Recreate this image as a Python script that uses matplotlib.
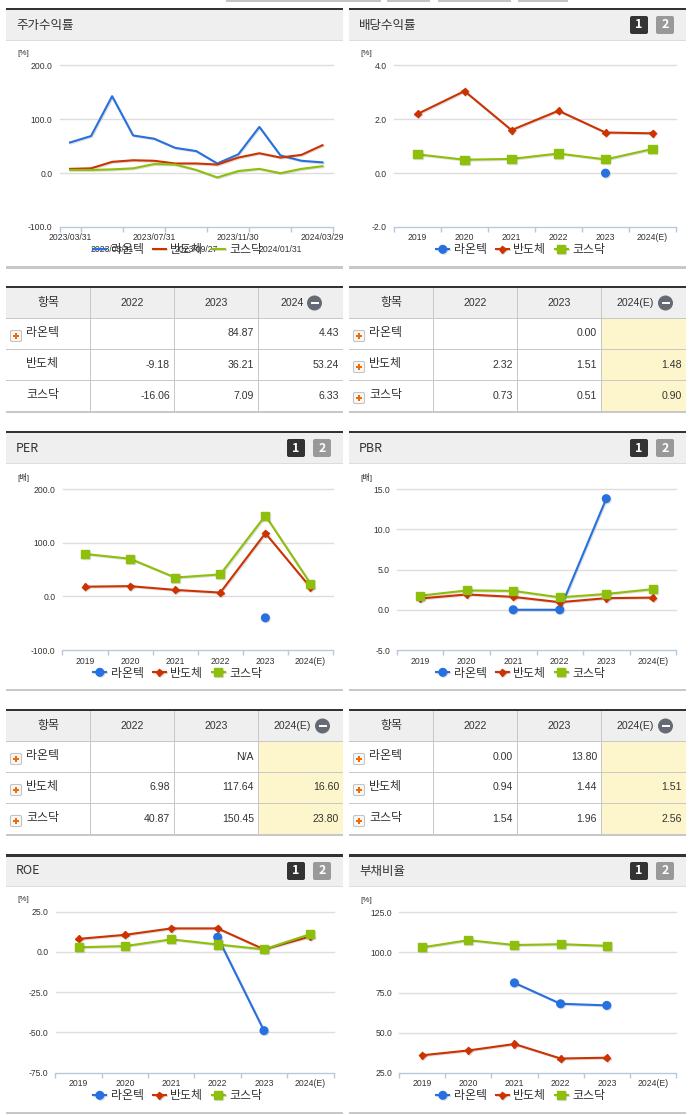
import matplotlib
matplotlib.use("Agg")
import matplotlib.pyplot as plt
import matplotlib.patheffects as pe
from matplotlib.patches import Rectangle, FancyBboxPatch, Circle
from matplotlib.transforms import IdentityTransform

plt.rcParams['font.family'] = ['Noto Sans CJK KR', 'DejaVu Sans']

W, H = 691, 1115
BLUE, RED, GREEN = '#2670df', '#cc3300', '#8dbf0b'
NAMES = ['라온텍', '반도체', '코스닥']
LATIN = ['Liberation Sans', 'Noto Sans CJK KR']

# chart data
months = ['2023/03/31', '', '2023/05/31', '', '2023/07/31', '', '2023/09/27', '',
          '2023/11/30', '', '2024/01/31', '', '2024/03/29']
ret_raon = [57, 69, 143, 70, 64, 47, 41, 18, 35, 86, 33, 23, 20]
ret_semi = [8, 9, 21, 24, 23, 18, 18, 16, 29, 37, 29, 34, 52]
ret_kosdaq = [6, 6, 7, 9, 17, 16, 6, -8, 4, 8, 0, 8, 13]

years = ['2019', '2020', '2021', '2022', '2023', '2024(E)']
N = None
div_raon = [N, N, N, N, 0.0, N]
div_semi = [2.2, 3.05, 1.6, 2.32, 1.51, 1.48]
div_kosdaq = [0.7, 0.5, 0.53, 0.73, 0.51, 0.9]
per_raon = [N, N, N, N, -40, N]
per_semi = [18, 19, 12, 6.98, 117.64, 16.6]
per_kosdaq = [79, 70, 35, 40.87, 150.45, 23.8]
pbr_raon = [N, N, 0.0, 0.0, 13.8, N]
pbr_semi = [1.4, 1.9, 1.6, 0.94, 1.44, 1.51]
pbr_kosdaq = [1.75, 2.4, 2.35, 1.54, 1.96, 2.56]
roe_raon = [N, N, N, 9, -49, N]
roe_semi = [8, 10.5, 14.5, 14.5, 1.5, 9.5]
roe_kosdaq = [2.8, 3.5, 7.7, 4.5, 1.5, 11]
debt_raon = [N, N, 81, 68, 67, N]
debt_semi = [36, 39, 43, 34, 34.5, N]
debt_kosdaq = [103, 107.5, 104.5, 105, 104, N]

# table data
ret_cols = ['2022', '2023', '2024']
ret_rows = [['', '84.87', '4.43'], ['-9.18', '36.21', '53.24'], ['-16.06', '7.09', '6.33']]
est_cols = ['2022', '2023', '2024(E)']
div_rows = [['', '0.00', ''], ['2.32', '1.51', '1.48'], ['0.73', '0.51', '0.90']]
per_rows = [['', 'N/A', ''], ['6.98', '117.64', '16.60'], ['40.87', '150.45', '23.80']]
pbr_rows = [['0.00', '13.80', ''], ['0.94', '1.44', '1.51'], ['1.54', '1.96', '2.56']]

fig = plt.figure(figsize=(W / 100, H / 100), dpi=100)


def fx(x):
    return x / W


def fy(y):
    return 1 - y / H


def rect(x0, y0, x1, y1, color, z=0):
    fig.add_artist(Rectangle((fx(x0), fy(y1)), (x1 - x0) / W, (y1 - y0) / H,
                             transform=fig.transFigure, fc=color, ec='none', zorder=z))


def txt(x, y, s, size=8.2, color='#333333', ha='left', **kw):
    return fig.text(fx(x), fy(y), s, fontsize=size, color=color, ha=ha, va='center', **kw)


def rounded(x, y, size, fc, ec='none', radius=2, z=2):
    fig.add_artist(FancyBboxPatch((x, H - y - size), size, size,
                                  boxstyle='round,pad=0,rounding_size=%s' % radius,
                                  transform=IdentityTransform(), fc=fc, ec=ec, lw=0.8, zorder=z))


def badge(x, y, s, color):
    rounded(x, y, 18, color)
    txt(x + 9, y + 9, s, 9, 'white', 'center', fontweight='bold', zorder=3)


def header(x0, x1, y, title, badges=True):
    rect(x0, y, x1, y + 2.5, '#333333')
    rect(x0, y + 2.5, x1, y + 32, '#efefef')
    rect(x0, y + 32, x1, y + 33, '#dddddd')
    txt(x0 + 10, y + 17, title, 9)
    if badges:
        badge(x1 - 56, y + 8, '1', '#333333')
        badge(x1 - 30, y + 8, '2', '#999999')


def chart(panel_x, x0, x1, y0, y1, ymin, ymax, step, unit, labels, series):
    ax = fig.add_axes([fx(x0), fy(y1), (x1 - x0) / W, (y1 - y0) / H])
    n = len(labels)
    ticks = []
    v = ymin
    while v <= ymax:
        ticks.append(v)
        v += step
    ax.set_xlim(-0.5, n - 0.5)
    ax.set_ylim(ymin, ymax)
    ax.set_yticks(ticks)
    ax.set_yticklabels(['{:.1f}'.format(t) for t in ticks], fontsize=6.2, color='#333333',
                       family=LATIN)
    ax.tick_params(axis='y', length=0, pad=5)
    ax.grid(axis='y', color='#dddddd', lw=1)
    for g in ax.get_ygridlines():
        g.set_clip_on(False)
    ax.set_axisbelow(True)
    for s in ['top', 'left', 'right']:
        ax.spines[s].set_visible(False)
    ax.spines['bottom'].set_color('#b5c9de')
    shadow = [pe.SimpleLineShadow(offset=(0.7, -0.7), alpha=0.2, shadow_color='#555555'), pe.Normal()]
    handles = []
    for (vals, name, c, m, ms) in series:
        xs = [i for i, val in enumerate(vals) if val is not None]
        ys = [vals[i] for i in xs]
        h, = ax.plot(xs, ys, color=c, lw=1.5, marker=m, ms=ms, mec=c, label=name,
                     path_effects=shadow, clip_on=False, zorder=3)
        handles.append(h)
    txt(panel_x + 11, y0 - 12, unit, 5.8, family=LATIN)
    return ax, handles


def three(raon, semi, kosdaq):
    return [(raon, NAMES[0], BLUE, 'o', 5.5), (semi, NAMES[1], RED, 'D', 3.6),
            (kosdaq, NAMES[2], GREEN, 's', 5.8)]


def legend(handles, xc, y):
    fig.legend(handles=handles, loc='center', bbox_to_anchor=(fx(xc), fy(y)), ncol=3, frameon=False,
               fontsize=8.6, handlelength=1.1, handletextpad=0.4, columnspacing=0.7,
               labelcolor='#333333', borderpad=0)


def cat_axis(ax, labels):
    ax.set_xticks([i - 0.5 for i in range(len(labels) + 1)])
    ax.set_xticklabels([''] * (len(labels) + 1))
    ax.tick_params(axis='x', length=3.5, color='#b5c9de', width=1)
    for i, s in enumerate(labels):
        ax.annotate(s, (i, 0), xycoords=('data', 'axes fraction'), xytext=(0, -11), textcoords='offset pixels',
                    ha='center', va='center', fontsize=6.2, color='#333333', family=LATIN,
                    annotation_clip=False)


def table(x0, y, cols, rows, plus, est=True):
    xs = [x0, x0 + 84, x0 + 168, x0 + 252, x0 + 337]
    ys = [y + 2, y + 32, y + 63, y + 94, y + 125]
    rect(x0, y, xs[-1], y + 2, '#333333', 1)
    rect(x0, ys[0], xs[-1], ys[1], '#efefef')
    if est:
        rect(xs[3], ys[1], xs[4], ys[4], '#fdf6cd')
    for yy in ys[1:4]:
        rect(x0, yy, xs[-1], yy + 1, '#c8c8c8', 1)
    rect(x0, ys[4], xs[-1], ys[4] + 2, '#c8c8c8', 1)
    for xx in xs[1:4]:
        rect(xx, ys[0], xx + 1, ys[4], '#c8c8c8', 1)
    txt(x0 + 42, y + 17, '항목', 8.6, ha='center')
    for i, c in enumerate(cols):
        cx = (xs[i + 1] + xs[i + 2]) / 2
        if i == 2:
            cx -= 8
        txt(cx, y + 17, c, 7.6, ha='center', family=LATIN)
    # collapse button on the last header cell
    tw = 22 if len(cols[2]) == 4 else 30
    icx = (xs[3] + xs[4]) / 2 - 8 + tw
    fig.add_artist(Circle((icx, H - (y + 17)), 7.5, transform=IdentityTransform(),
                          fc='#666a75', ec='none', zorder=3))
    rect(icx - 4, y + 16, icx + 4, y + 18, 'white', 4)
    for r, row in enumerate(rows):
        yc = (ys[r + 1] + ys[r + 2]) / 2
        txt(x0 + 20, yc - 1, NAMES[r], 8.6)
        if plus[r]:
            rounded(x0 + 4.5, yc - 3, 11, '#f8f8f8', '#c4c4c4', 1.5, 2)
            rect(x0 + 7, yc + 1.5, x0 + 13, yc + 3.5, '#f26a00', 4)
            rect(x0 + 9, yc - 0.5, x0 + 11, yc + 5.5, '#f26a00', 4)
        for i, v in enumerate(row):
            txt(xs[i + 2] - 4 if i < 2 else xs[4] - 4, yc, v, 7.6, ha='right', family=LATIN)


# top buttons cut off by the crop
for a, b in [(226, 381), (387, 430), (438, 511), (518, 568)]:
    rect(a, 0, b, 1.5, '#c4c4c4')

L0, L1, R0, R1 = 6, 343, 349, 686

# row 1
header(L0, L1, 8, '주가수익률', badges=False)
header(R0, R1, 8, '배당수익률')
ax, hs = chart(L0, 59.5, 333, 65.5, 227, -100, 200, 100, '[%]', months,
               [(ret_raon, NAMES[0], BLUE, None, 0), (ret_semi, NAMES[1], RED, None, 0),
                (ret_kosdaq, NAMES[2], GREEN, None, 0)])
legend(hs, 178, 250)
ax.set_xticks([i - 0.5 for i in [0, 1, 3, 5, 7, 9, 11, 13]])
ax.set_xticklabels([''] * 8)
ax.tick_params(axis='x', length=3.5, color='#b5c9de', width=1)
clip = Rectangle((0, 0), 343, H, transform=IdentityTransform())
for i, s in enumerate(months):
    if s:
        t = ax.annotate(s, (i, 0), xycoords=('data', 'axes fraction'),
                        xytext=(0, -10 if i % 4 == 0 else -22), textcoords='offset pixels',
                        ha='center', va='center', fontsize=6.2, color='#333333',
                        family=LATIN, annotation_clip=False)
        t.set_clip_path(clip)
        t.set_clip_on(True)
rect(L0, 266, L1, 268.5, '#c8c8c8')

ax, hs = chart(R0, 394, 676, 65.5, 227, -2, 4, 2, '[%]', years, three(div_raon, div_semi, div_kosdaq))
cat_axis(ax, years)
legend(hs, 521, 250)
rect(R0, 266, R1, 268.5, '#c8c8c8')

table(L0, 286, ret_cols, ret_rows, [True, False, False], est=False)
table(R0, 286, est_cols, div_rows, [True, True, True])

# row 2
header(L0, L1, 431, 'PER')
header(R0, R1, 431, 'PBR')
ax, hs = chart(L0, 62.5, 333, 489, 650, -100, 200, 100, '[배]', years, three(per_raon, per_semi, per_kosdaq))
cat_axis(ax, years)
legend(hs, 178, 673)
rect(L0, 688.5, L1, 691, '#c8c8c8')
ax, hs = chart(R0, 397, 676, 489, 650, -5, 15, 5, '[배]', years, three(pbr_raon, pbr_semi, pbr_kosdaq))
cat_axis(ax, years)
legend(hs, 521, 673)
rect(R0, 688.5, R1, 691, '#c8c8c8')

table(L0, 709, est_cols, per_rows, [True, True, True])
table(R0, 709, est_cols, pbr_rows, [True, True, True])

# row 3
header(L0, L1, 854, 'ROE')
header(R0, R1, 854, '부채비율')
ax, hs = chart(L0, 55.5, 333.5, 911.5, 1072.5, -75, 25, 25, '[%]', years, three(roe_raon, roe_semi, roe_kosdaq))
cat_axis(ax, years)
legend(hs, 178, 1096)
rect(L0, 1111.5, L1, 1114, '#c8c8c8')
ax, hs = chart(R0, 399, 676, 912, 1073, 25, 125, 25, '[%]', years, three(debt_raon, debt_semi, debt_kosdaq))
cat_axis(ax, years)
legend(hs, 521, 1096)
rect(R0, 1111.5, R1, 1114, '#c8c8c8')

fig.savefig('out.png', dpi=100)
